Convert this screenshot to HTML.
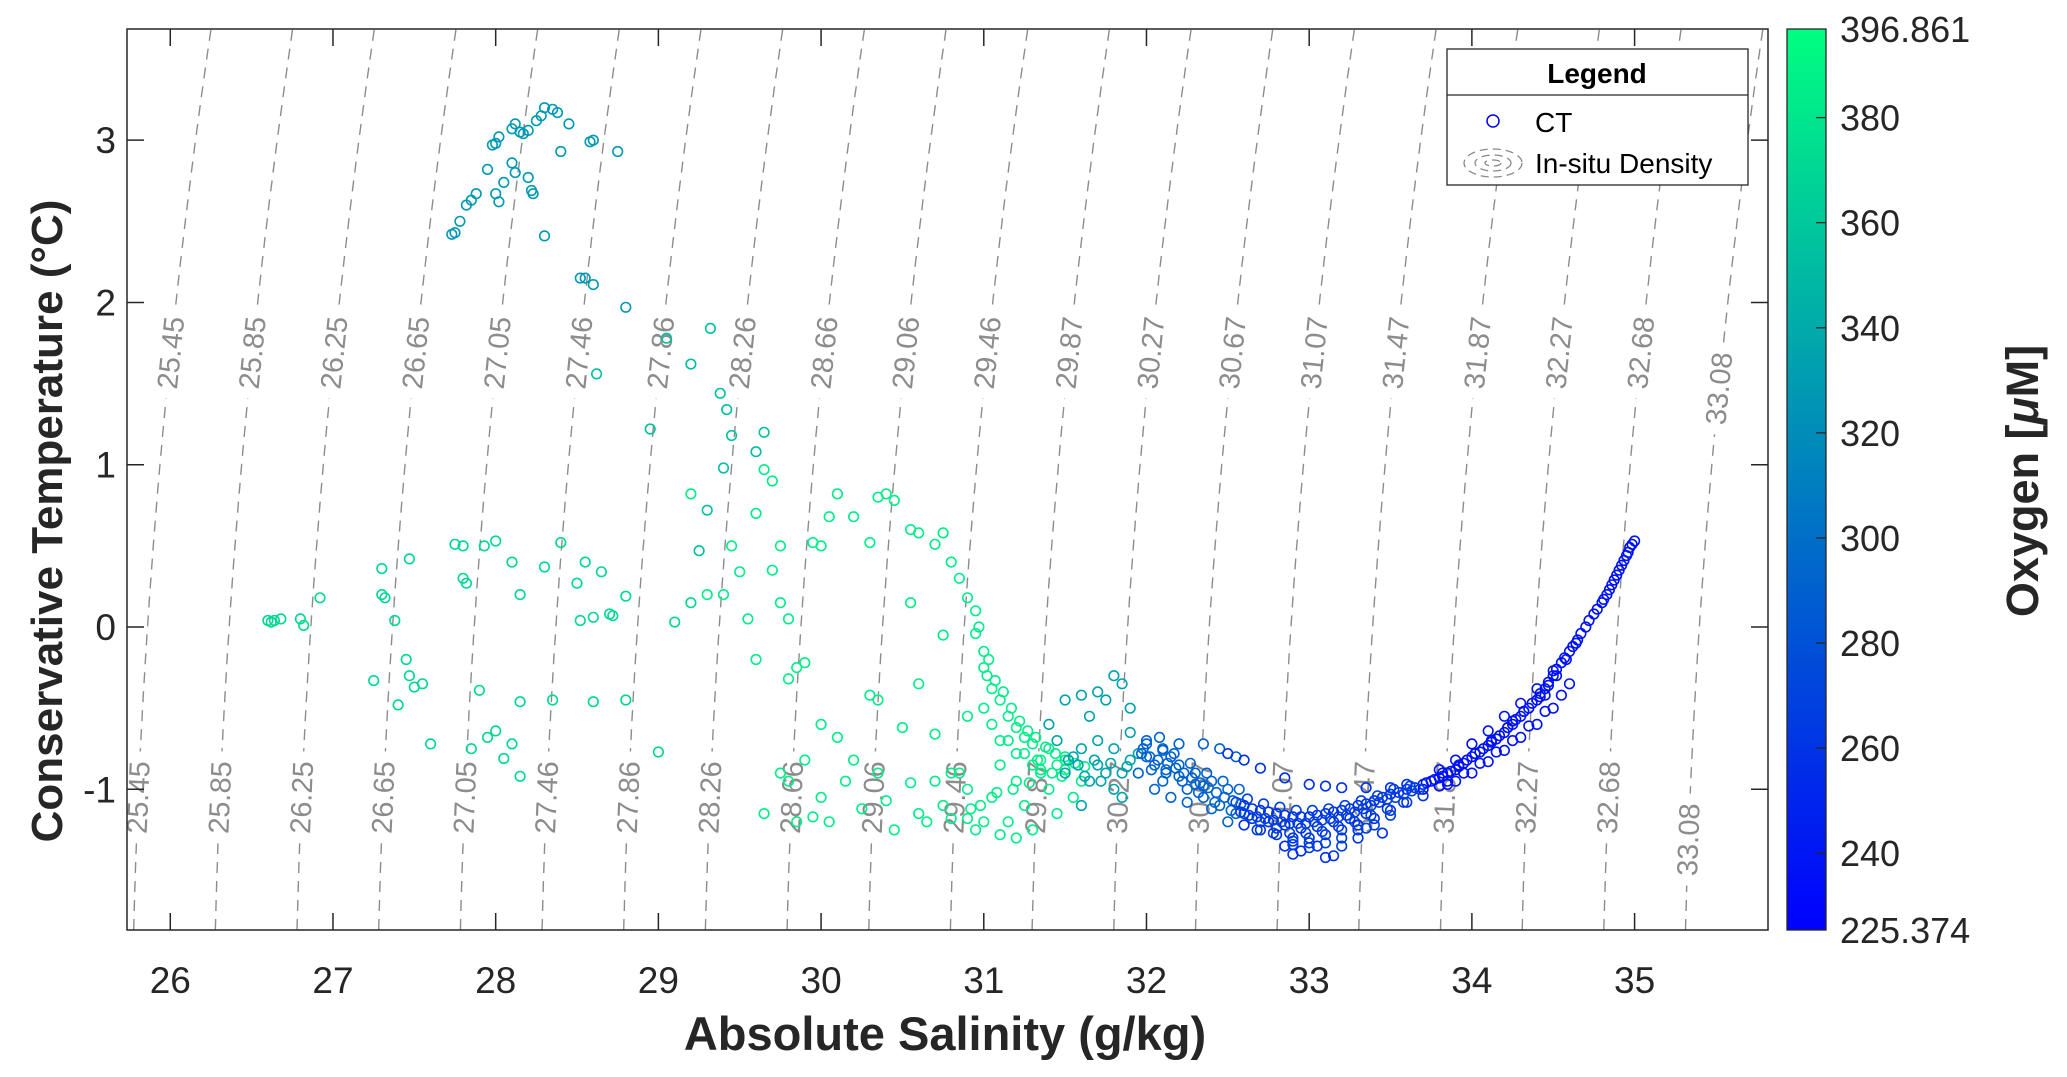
<!DOCTYPE html>
<html><head><meta charset="utf-8"><style>
html,body{margin:0;padding:0;background:#fff;}
svg{display:block;font-family:"Liberation Sans",Arial,sans-serif;}
</style></head><body>
<svg id="chart" width="2067" height="1077" viewBox="0 0 2067 1077" xmlns="http://www.w3.org/2000/svg">
<defs>
<linearGradient id="cmap" x1="0" y1="1" x2="0" y2="0">
<stop offset="0" stop-color="rgb(0,0,255)"/><stop offset="1" stop-color="rgb(0,255,128)"/>
</linearGradient>
<clipPath id="plotclip"><rect x="127" y="29" width="1641" height="901"/></clipPath>
</defs>
<rect width="2067" height="1077" fill="#fff"/>
<g id="iso" clip-path="url(#plotclip)"></g>
<g id="isolab"></g>
<g id="pts" clip-path="url(#plotclip)"></g>
<rect x="127" y="29" width="1641" height="901" fill="none" stroke="#262626" stroke-width="1.5"/>
<g id="axes"></g>
<text x="945" y="1050" text-anchor="middle" font-size="47" font-weight="bold" fill="#262626">Absolute Salinity (g/kg)</text>
<text transform="translate(62,521) rotate(-90)" text-anchor="middle" font-size="44" font-weight="bold" fill="#262626">Conservative Temperature (°C)</text>
<rect x="1787" y="29" width="39" height="901" fill="url(#cmap)" stroke="#262626" stroke-width="1.3"/>
<g id="cbar"></g>
<text transform="translate(2038,481) rotate(-90)" text-anchor="middle" font-size="45" font-weight="bold" fill="#262626">Oxygen [<tspan font-style="italic">μ</tspan>M]</text>
<g>
<rect x="1447" y="49" width="301" height="136" fill="#fff" stroke="#262626" stroke-width="1.3"/>
<line x1="1447" y1="95" x2="1748" y2="95" stroke="#262626" stroke-width="1.3"/>
<text x="1597" y="83" text-anchor="middle" font-size="28" font-weight="bold" fill="#000">Legend</text>
<circle cx="1493" cy="121" r="6" fill="none" stroke="#0000ff" stroke-width="1.5"/>
<text x="1535" y="132" font-size="28" fill="#000">CT</text>
<g fill="none" stroke="#888" stroke-width="1.3" stroke-dasharray="8,5">
<ellipse cx="1493" cy="163" rx="29" ry="14"/><ellipse cx="1493" cy="163" rx="18" ry="8"/><ellipse cx="1493" cy="163" rx="8" ry="3"/>
</g>
<text x="1535" y="173" font-size="28" fill="#000">In-situ Density</text>
</g>
</svg>
<script>
// ---- data ----
const xTicks = [26,27,28,29,30,31,32,33,34,35];
const yTicks = [-1,0,1,2,3];
const cbTicks = [240,260,280,300,320,340,360,380];
const oxyMin = 225.374, oxyMax = 396.861;
const densityLevels = [25.45,25.85,26.25,26.65,27.05,27.46,27.86,28.26,28.66,29.06,29.46,29.87,30.27,30.67,31.07,31.47,31.87,32.27,32.68,33.08];
const groupOxygen = [328, 370, 355, 385, 335, 292, 258, 238, 236, 268];
const salG0 = [27.73,27.75,27.78,27.82,27.85,27.88,27.95,27.98,28.0,28.02,28.1,28.12,28.15,28.17,28.2,28.25,28.28,28.3,28.35,28.38,28.45,28.58,28.6,28.75,28.0,28.02,28.05,28.1,28.12,28.2,28.22,28.23,28.3,28.4,28.52,28.55,28.6,28.8];
const tempG0 = [2.42,2.43,2.5,2.6,2.63,2.67,2.82,2.97,2.98,3.02,3.07,3.1,3.05,3.04,3.06,3.12,3.15,3.2,3.19,3.17,3.1,2.99,3.0,2.93,2.67,2.62,2.74,2.86,2.8,2.77,2.69,2.67,2.41,2.93,2.15,2.15,2.11,1.97];
const salG1 = [26.6,26.62,26.64,26.68,26.8,26.82,26.92,27.25,27.3,27.3,27.32,27.38,27.4,27.45,27.47,27.5,27.55,27.47,27.6,27.75,27.8,27.8,27.82,27.9,27.93,28.0,28.1,28.15,28.3,28.4,27.85,27.95,28.0,28.1,28.05,28.15,28.15,28.35,28.5,28.52,28.6,28.65,28.7,28.72,28.8,28.6,28.8,28.55,29.0,29.1,29.2];
const tempG1 = [0.04,0.03,0.04,0.05,0.05,0.01,0.18,-0.33,0.36,0.2,0.18,0.04,-0.48,-0.2,-0.3,-0.37,-0.35,0.42,-0.72,0.51,0.5,0.3,0.27,-0.39,0.5,0.53,0.4,0.2,0.37,0.52,-0.75,-0.68,-0.64,-0.72,-0.81,-0.46,-0.92,-0.45,0.27,0.04,0.06,0.34,0.08,0.07,0.19,-0.46,-0.45,0.4,-0.77,0.03,0.15];
const salG2 = [28.62,28.95,29.05,29.2,29.32,29.38,29.42,29.45,29.6,29.65,29.4,29.3,29.25];
const tempG2 = [1.56,1.22,1.78,1.62,1.84,1.44,1.34,1.18,1.08,1.2,0.98,0.72,0.47];
const salG3 = [29.2,29.3,29.4,29.45,29.5,29.55,29.6,29.65,29.7,29.6,29.75,29.7,29.8,29.75,29.8,29.85,29.9,29.95,30.0,30.05,30.1,30.2,30.3,30.35,30.4,30.45,30.55,30.6,30.7,30.75,30.8,30.85,30.9,30.95,30.95,30.97,31.0,31.02,31.05,31.1,31.15,31.2,31.25,31.3,31.4,31.5,30.55,30.75,30.6,30.9,30.8,
29.65,29.75,29.8,29.85,29.9,29.95,30.0,30.0,30.05,30.1,30.15,30.2,30.25,30.3,30.35,30.35,30.4,30.45,30.5,30.55,30.6,30.65,30.7,30.75,30.8,30.85,30.9,30.95,31.0,31.05,31.1,31.15,31.2,31.25,31.3,31.35,31.4,31.45,31.5,31.55,31.6,31.1,31.2,30.9,30.7,31.0,31.05,31.1,31.2,31.3,31.35,31.45,
31.0,31.03,31.07,31.12,31.17,31.22,31.27,31.32,31.38,31.44,31.5,31.56,31.62,31.35,31.42,31.48,31.28,31.18,31.08,30.98,30.92,31.15,31.25,31.33];
const tempG3 = [0.82,0.2,0.2,0.5,0.34,0.05,-0.2,0.97,0.9,0.7,0.5,0.35,-0.32,0.15,0.05,-0.25,-0.22,0.52,0.5,0.68,0.82,0.68,0.52,0.8,0.82,0.78,0.6,0.58,0.51,0.58,0.4,0.3,0.18,0.1,-0.04,0.0,-0.25,-0.3,-0.38,-0.45,-0.55,-0.62,-0.68,-0.72,-0.75,-0.8,0.15,-0.05,-0.35,-0.55,-0.9,
-1.15,-0.9,-0.95,-1.2,-0.82,-1.17,-1.05,-0.6,-1.2,-0.68,-0.95,-0.82,-1.12,-0.42,-0.45,-0.9,-1.07,-1.25,-0.62,-0.96,-1.15,-1.2,-0.66,-1.1,-1.18,-0.9,-1.0,-1.25,-1.2,-1.05,-0.85,-1.2,-0.95,-1.1,-1.25,-0.82,-1.0,-1.15,-0.88,-1.05,-0.95,-1.28,-1.3,-1.18,-0.95,-0.5,-0.6,-0.7,-0.78,-0.85,-0.9,-0.85,
-0.15,-0.2,-0.33,-0.4,-0.5,-0.58,-0.64,-0.68,-0.74,-0.78,-0.82,-0.84,-0.86,-0.88,-0.9,-0.92,-0.96,-1.0,-1.02,-1.1,-1.12,-0.7,-0.78,-0.82];
const salG4 = [31.4,31.5,31.6,31.7,31.75,31.8,31.85,31.9,31.9,31.65,31.7,31.6,31.8,31.5,31.7,31.8,31.85,31.9,31.95,31.55,31.65,31.75,31.85,31.45,31.6,31.58,31.68,31.78,31.88,31.62,31.72,31.52];
const tempG4 = [-0.6,-0.45,-0.42,-0.4,-0.45,-0.3,-0.35,-0.5,-0.65,-0.55,-0.7,-0.75,-0.75,-0.9,-0.85,-1.0,-0.9,-0.82,-0.78,-0.8,-0.95,-0.9,-1.05,-0.7,-1.1,-0.85,-0.82,-0.84,-0.86,-0.92,-0.95,-0.82];
const salG5 = [32.0,32.05,31.95,32.1,32.1,32.15,32.2,32.25,32.3,32.35,32.4,32.45,32.5,32.55,32.0,32.08,31.98,32.2,32.3,32.4,32.5,32.15,32.25,32.35,32.45,32.55,32.2,32.35,32.05,32.12,
31.97,32.02,32.07,32.13,32.18,32.23,32.28,32.33,32.38,32.43,32.48,32.53,32.58,32.03,32.12,32.22,32.32,32.42,32.52,32.0,32.1,32.17,32.27,32.37,32.47,32.57];
const tempG5 = [-0.7,-0.85,-0.9,-0.75,-0.95,-0.8,-0.85,-1.0,-0.9,-1.05,-0.95,-1.1,-1.0,-1.15,-0.8,-0.68,-0.75,-0.72,-0.97,-1.12,-1.2,-1.05,-1.08,-0.72,-0.75,-0.8,-0.92,-0.98,-1.0,-0.88,
-0.78,-0.8,-0.82,-0.84,-0.87,-0.9,-0.93,-0.96,-0.99,-1.02,-1.05,-1.07,-1.09,-0.88,-0.9,-0.95,-1.02,-1.08,-1.13,-0.72,-0.76,-0.78,-0.84,-0.9,-0.95,-1.0];
const salG6 = [32.6,32.65,32.7,32.75,32.8,32.85,32.9,32.95,33.0,33.05,33.1,33.15,33.2,33.25,33.3,33.35,33.4,33.45,33.5,33.55,33.6,33.65,33.7,
32.6,32.7,32.8,32.9,33.0,33.1,33.2,33.3,33.4,33.5,33.6,33.7,32.65,32.75,32.85,32.95,33.05,33.15,33.25,33.35,
32.9,32.95,33.1,33.15,33.3,33.45,32.85,33.05,32.5,32.6,32.7,32.85,33.0,33.1,33.2,33.35,33.5,33.6];
const tempG6 = [-1.1,-1.12,-1.13,-1.14,-1.15,-1.16,-1.17,-1.17,-1.17,-1.16,-1.15,-1.14,-1.13,-1.12,-1.1,-1.09,-1.07,-1.05,-1.03,-1.02,-1.0,-0.99,-0.97,
-1.22,-1.25,-1.28,-1.3,-1.3,-1.28,-1.25,-1.22,-1.18,-1.13,-1.08,-1.04,-1.18,-1.2,-1.22,-1.24,-1.23,-1.2,-1.18,-1.15,
-1.4,-1.38,-1.42,-1.41,-1.3,-1.27,-1.35,-1.35,-0.78,-0.82,-0.87,-0.93,-0.97,-0.98,-0.99,-0.99,-0.99,-0.97];
const salG7 = [33.75,33.8,33.85,33.9,33.95,34.0,34.05,34.1,34.15,34.2,34.25,34.3,34.35,34.4,34.45,34.5,34.55,34.6,34.65,34.7,34.75,34.8,34.83,34.86,34.89,34.92,34.95,34.97,35.0,
33.8,33.9,34.0,34.1,34.2,34.3,34.4,34.5,34.55,34.6,33.8,33.9,34.0,34.1,34.2,34.3,34.4,34.5,33.7,33.85,34.25,34.45];
const tempG7 = [-0.95,-0.93,-0.9,-0.88,-0.84,-0.8,-0.77,-0.73,-0.69,-0.65,-0.6,-0.55,-0.5,-0.45,-0.38,-0.3,-0.22,-0.15,-0.08,0.0,0.08,0.15,0.2,0.26,0.32,0.38,0.44,0.49,0.53,
-0.98,-0.95,-0.9,-0.83,-0.76,-0.68,-0.6,-0.5,-0.42,-0.35,-0.88,-0.82,-0.72,-0.64,-0.55,-0.47,-0.38,-0.27,-1.0,-0.97,-0.58,-0.42];
const salG8 = [33.72,33.77,33.82,33.87,33.92,33.97,34.02,34.07,34.12,34.17,34.22,34.27,34.32,34.37,34.42,34.47,34.52,34.57,34.62,34.67,34.72,34.77,34.81,34.845,34.875,34.905,34.935,34.96,34.985,
33.82,33.92,34.02,34.12,34.22,34.32,34.42,34.47,34.52,34.58,34.64,33.85,33.95,34.05,34.15,34.25,34.35,34.45];
const tempG8 = [-0.96,-0.94,-0.92,-0.89,-0.86,-0.82,-0.78,-0.75,-0.71,-0.67,-0.62,-0.57,-0.52,-0.47,-0.41,-0.34,-0.26,-0.19,-0.12,-0.04,0.04,0.11,0.17,0.23,0.29,0.35,0.41,0.46,0.51,
-0.9,-0.85,-0.78,-0.7,-0.62,-0.52,-0.43,-0.36,-0.3,-0.2,-0.1,-0.95,-0.9,-0.84,-0.77,-0.7,-0.61,-0.52];
const salG9 = [32.58,32.63,32.68,32.73,32.78,32.83,32.88,32.93,32.98,33.03,33.08,33.13,33.18,33.23,33.28,33.33,33.38,33.43,33.48,33.53,33.58,33.63,33.68,
32.62,32.72,32.82,32.92,33.02,33.12,33.22,33.32,33.42,33.52,33.62,32.68,32.78,32.88,32.98,33.08,33.18,33.28,33.38,33.48,33.58,
32.55,32.6,32.7,32.8,32.9,33.0,33.1,33.2,33.3,33.4,33.5,32.9,33.0,33.2,33.35];
const tempG9 = [-1.14,-1.16,-1.17,-1.18,-1.19,-1.2,-1.21,-1.21,-1.21,-1.2,-1.19,-1.18,-1.17,-1.16,-1.14,-1.12,-1.1,-1.08,-1.06,-1.05,-1.03,-1.01,-1.0,
-1.06,-1.09,-1.11,-1.13,-1.13,-1.12,-1.1,-1.07,-1.04,-1.0,-0.98,-1.25,-1.27,-1.27,-1.27,-1.26,-1.23,-1.2,-1.16,-1.12,-1.08,
-1.08,-1.15,-1.2,-1.24,-1.34,-1.36,-1.33,-1.3,-1.25,-1.22,-1.16,-1.32,-1.33,-1.35,-1.24];
const salGroups = [salG0,salG1,salG2,salG3,salG4,salG5,salG6,salG7,salG8,salG9];
const tempGroups = [tempG0,tempG1,tempG2,tempG3,tempG4,tempG5,tempG6,tempG7,tempG8,tempG9];

// ---- scales ----
const X0=127,X1=1768,Y0=29,Y1=930;
const sMin=25.734,sMax=35.82,tMin=-1.867,tMax=3.685;
const xs = s => X0+(s-sMin)/(sMax-sMin)*(X1-X0);
const ys = t => Y1-(t-tMin)/(tMax-tMin)*(Y1-Y0);
const cy = o => Y1-(o-oxyMin)/(oxyMax-oxyMin)*(Y1-Y0);
const col = o => { const f=Math.max(0,Math.min(1,(o-oxyMin)/(oxyMax-oxyMin))); return `rgb(0,${Math.round(255*f)},${Math.round(255*(1-f/2))})`; };
const NS='http://www.w3.org/2000/svg';
function mk(tag,attrs,parent){const e=document.createElementNS(NS,tag);for(const k in attrs)e.setAttribute(k,attrs[k]);parent.appendChild(e);return e;}

// isopycnals
const iso=document.getElementById('iso'), isolab=document.getElementById('isolab');
const isoS=(k,t)=>{const d=t-tMin;return 25.775+0.502*k+0.0252*d+0.01088*d*d;};
densityLevels.forEach((lv,k)=>{
  let p='';
  for(let t=tMin;t<=tMax+0.001;t+=0.05){p+=(p?'L':'M')+xs(isoS(k,t)).toFixed(1)+','+ys(t).toFixed(1);}
  const ln=mk('path',{d:p,fill:'none',stroke:'#8c8c8c','stroke-width':1.4,'stroke-dasharray':'11,8'},iso);
  
  
  const last = k===densityLevels.length-1;
  [last?1.47:1.69, last?-1.31:-1.05].forEach((t,i)=>{
    const x=xs(isoS(k,t)), y=ys(t);
    const slope=(isoS(k,t+0.05)-isoS(k,t-0.05))/0.1*(X1-X0)/(sMax-sMin)/((Y1-Y0)/(tMax-tMin));
    const ang=-90+Math.atan(slope)*180/Math.PI;
    const g=mk('g',{transform:`translate(${x.toFixed(1)},${y.toFixed(1)}) rotate(${ang.toFixed(2)})`},isolab);
    
    
    mk('rect',{x:-46,y:-16,width:92,height:32,fill:'#fff'},g);
    const tx=mk('text',{x:0,y:10,'text-anchor':'middle','font-size':29,fill:'#8c8c8c'},g);
    tx.textContent=lv.toFixed(2);
  });
});

// points
const pts=document.getElementById('pts');
salGroups.forEach((sal,gi)=>{
  const temp=tempGroups[gi];
  sal.forEach((s,i)=>{
    const c=mk('circle',{cx:xs(s).toFixed(1),cy:ys(temp[i]).toFixed(1),r:4.8,fill:'none',stroke:col(groupOxygen[gi]),'stroke-width':1.6},pts);
    
    
  });
});

// axes ticks
const ax=document.getElementById('axes');
xTicks.forEach(v=>{
  const x=xs(v);
  mk('line',{x1:x,y1:Y1,x2:x,y2:Y1-17,stroke:'#262626','stroke-width':1.5},ax);
  mk('line',{x1:x,y1:Y0,x2:x,y2:Y0+17,stroke:'#262626','stroke-width':1.5},ax);
  const t=mk('text',{x:x,y:993,'text-anchor':'middle','font-size':37,fill:'#262626'},ax);
  
  
  t.textContent=v;
});
yTicks.forEach(v=>{
  const y=ys(v);
  mk('line',{x1:X0,y1:y,x2:X0+17,y2:y,stroke:'#262626','stroke-width':1.5},ax);
  mk('line',{x1:X1,y1:y,x2:X1-17,y2:y,stroke:'#262626','stroke-width':1.5},ax);
  const t=mk('text',{x:116,y:y+13,'text-anchor':'end','font-size':37,fill:'#262626'},ax);
  
  
  t.textContent=v<0?'-'+Math.abs(v):v;
});
// colorbar ticks
const cb=document.getElementById('cbar');
cbTicks.forEach(v=>{
  const y=cy(v);
  mk('line',{x1:1816,y1:y,x2:1826,y2:y,stroke:'#262626','stroke-width':1.3},cb);
  const t=mk('text',{x:1840,y:y+13,'font-size':36,fill:'#262626'},cb);
  
  
  t.textContent=v;
});
[[oxyMax,'396.861'],[oxyMin,'225.374']].forEach(([v,s])=>{
  const t=mk('text',{x:1840,y:cy(v)+13,'font-size':36,fill:'#262626'},cb);
  
  
  t.textContent=s;
});
</script>
</body></html>
